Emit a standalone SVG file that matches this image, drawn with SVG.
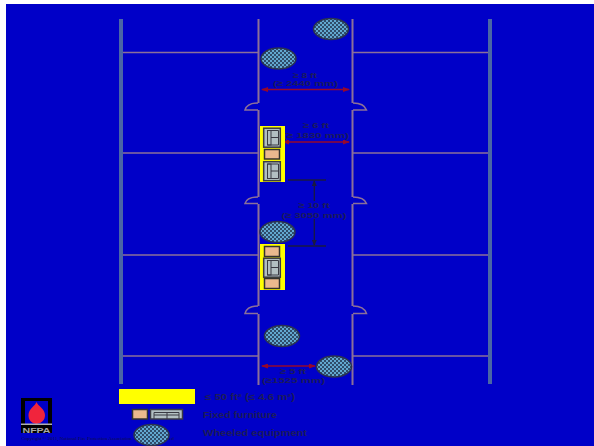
<svg xmlns="http://www.w3.org/2000/svg" width="594" height="446" viewBox="0 0 594 446">
<style>
.wall{stroke:#4a66a6;stroke-width:4;fill:none}
.cor{stroke:#8c7098;stroke-width:2;fill:none}
.room{stroke:#8c7098;stroke-width:1.500;fill:none}
.red{stroke:#96082c;stroke-width:1.300;fill:none;marker-start:url(#ra);marker-end:url(#ra)}
.blk{stroke:#1a1a40;stroke-width:1.300;fill:none}
.eq{fill:url(#chk);stroke:#2a3350;stroke-width:1.500}
.t{font-family:"Liberation Sans",Arial,sans-serif;font-size:8px;font-weight:700;fill:#1c1c5a;text-anchor:middle}
.l{font-family:"Liberation Sans",Arial,sans-serif;font-size:8.500px;font-weight:700;fill:#1c1c5a}
.y{fill:#ffff00}
.cab{fill:#b2bfc2;stroke:#3a3a44;stroke-width:1.500}
.in{fill:none;stroke:#3a3a44;stroke-width:1}
.tb{fill:#eab98e;stroke:#33332e;stroke-width:1.500}
</style>
<defs>
<pattern id="chk" width="4" height="4" patternUnits="userSpaceOnUse">
<rect width="4" height="4" fill="#62a8d0"/>
<rect x="0" y="0" width="2" height="2" fill="#2f4c6a"/>
<rect x="2" y="2" width="2" height="2" fill="#2f4c6a"/>
</pattern>
<marker id="ra" markerWidth="7" markerHeight="5" refX="6" refY="2.500" orient="auto-start-reverse" markerUnits="userSpaceOnUse"><path d="M0 0L7 2.500L0 5Z" fill="#96082c"/></marker>
<marker id="ka" markerWidth="6" markerHeight="5" refX="5" refY="2.500" orient="auto" markerUnits="userSpaceOnUse"><path d="M0 0L6 2.500L0 5Z" fill="#1a1a40"/></marker>
<g id="bigcab"><rect class="cab" x="0.700" y="0.700" width="16.600" height="19"/><rect class="in" x="4.500" y="3" width="3.500" height="14.500"/><path class="in" d="M8 10H15.500M15.500 3V17.500M4.500 3H15.500M4.500 17.500H15.500"/></g>
</defs>
<rect width="594" height="446" fill="#fff"/>
<rect x="6" y="4" width="588" height="442" fill="#0000c8"/>
<g id="connectors">
<path class="wall" d="M121 19V384M490 19V384"/>
<path class="room" d="M123 52.500H258M353 52.500H488M123 153H258M353 153H488M123 255H258M353 255H488M123 356H258M353 356H488"/>
<path class="cor" d="M258.500 19V103M258.500 110V197M258.500 204V306M258.500 314V385M352.500 19V103M352.500 110V197M352.500 204V306M352.500 314V385"/>
<path class="room" d="M258 103Q247 103 245 110H258M258 197Q247 197 245 203.500H258M258 306Q247 306 245 313.500H258M353 103Q364 103 366.500 110H353M353 197Q364 197 366.500 203.500H353M353 306Q364 306 366.500 313.500H353"/>
<path class="red" d="M262 89.500H349"/>
<path class="red" d="M283 142H349"/>
<path class="red" d="M262 366H315"/>
<path class="blk" d="M288 180H326M288 246H326"/>
<path class="blk" d="M314.300 201V181" marker-end="url(#ka)"/>
<path class="blk" d="M314.300 219V245" marker-end="url(#ka)"/>
</g>
<g id="labels">
<text class="t" x="305" y="78" textLength="24" lengthAdjust="spacingAndGlyphs">≥ 8 ft</text>
<text class="t" x="305.500" y="86" textLength="65" lengthAdjust="spacingAndGlyphs">(≥ 2440 mm)</text>
<text class="t" x="316" y="128" textLength="26" lengthAdjust="spacingAndGlyphs">≥ 6 ft</text>
<text class="t" x="316" y="138" textLength="66" lengthAdjust="spacingAndGlyphs">(≥ 1830 mm)</text>
<text class="t" x="314" y="208" textLength="31" lengthAdjust="spacingAndGlyphs">≥ 10 ft</text>
<text class="t" x="314" y="217.500" textLength="65" lengthAdjust="spacingAndGlyphs">(≥ 3050 mm)</text>
<text class="t" x="293" y="374" textLength="26" lengthAdjust="spacingAndGlyphs">≥ 5 ft</text>
<text class="t" x="293.500" y="382.500" textLength="63" lengthAdjust="spacingAndGlyphs">(≥1525 mm)</text>
</g>
<g id="eq1"><ellipse class="eq" cx="331" cy="29" rx="17.500" ry="10.500"/></g>
<g id="eq2"><ellipse class="eq" cx="278.500" cy="58.500" rx="17.500" ry="10.500"/></g>
<g id="area1"><rect class="y" x="260" y="126" width="25" height="56"/>
<use href="#bigcab" x="263" y="127.500"/><rect class="tb" x="264.500" y="149.500" width="15" height="9.500"/><use href="#bigcab" x="263" y="161"/></g>
<g id="eq3"><ellipse class="eq" cx="277.500" cy="232" rx="17.500" ry="10.500"/></g>
<g id="area2"><rect class="y" x="260" y="244" width="25" height="46"/>
<rect class="tb" x="264.500" y="246.500" width="15" height="10"/><use href="#bigcab" x="263" y="257.500"/><rect class="tb" x="264.500" y="278.500" width="15" height="10"/></g>
<g id="eq4"><ellipse class="eq" cx="282" cy="336" rx="17.500" ry="10.500"/></g>
<g id="eq5"><ellipse class="eq" cx="334" cy="366.500" rx="17.500" ry="10.500"/></g>
<g id="logo">
<rect x="21" y="398" width="31" height="35" fill="#000"/>
<rect x="25" y="401" width="23" height="23" fill="#0000c8"/>
<path d="M36.500 402C38 406 45 409 45 415C45 420 42 423 36.500 424C31 423 28.500 420 28.500 415C28.500 409 35 406 36.500 402Z" fill="#f0243c"/>
<rect x="21" y="423.500" width="31" height="1.500" fill="#b0b0b0"/>
<text x="36.500" y="432.500" font-family="Liberation Sans,Arial,sans-serif" font-size="8" font-weight="700" fill="#a8a8a8" text-anchor="middle" textLength="28" lengthAdjust="spacingAndGlyphs">NFPA</text>
</g>
<g id="copyright"><text x="21.500" y="440" font-family="Liberation Serif,serif" font-size="4.500" fill="#101048" textLength="152.500" lengthAdjust="spacingAndGlyphs">Copyright © 2011, National Fire Protection Association. All Rights Reserved</text></g>
<g id="legend">
<rect class="y" x="119" y="389" width="76" height="15"/>
<text class="l" x="205" y="400" textLength="90" lengthAdjust="spacingAndGlyphs">≤ 50 ft² (≤ 4.6 m²)</text>
<rect class="tb" x="132.500" y="409.500" width="15" height="9.500"/>
<rect class="cab" x="150.500" y="409.500" width="32" height="9.500"/>
<path class="in" d="M154 412.500H179M154 412.500V419M179 412.500V419M154 415H179M167 412.500V419"/>
<text class="l" x="203" y="418" textLength="74" lengthAdjust="spacingAndGlyphs">Fixed furniture</text>
<ellipse class="eq" cx="151.500" cy="435" rx="17.500" ry="10.500"/>
<text class="l" x="203" y="436" textLength="104" lengthAdjust="spacingAndGlyphs">Wheeled equipment</text>
</g>
</svg>
